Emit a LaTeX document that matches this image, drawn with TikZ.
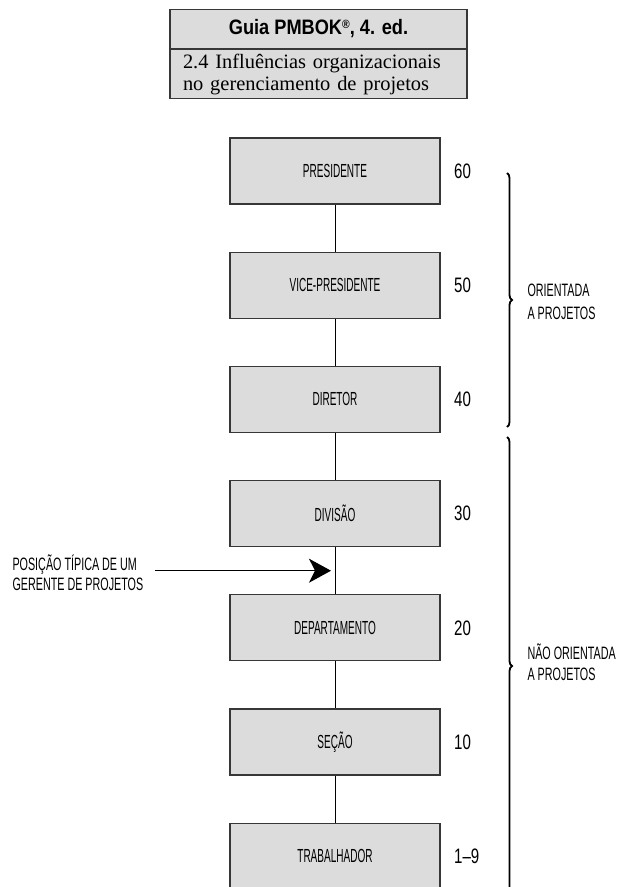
\documentclass[tikz,border=0pt]{standalone}
\usepackage{fontspec}
\usetikzlibrary{arrows.meta, positioning, calc, decorations.pathreplacing}
\newfontfamily\condfont[FakeStretch=0.53]{Liberation Sans}
\newfontfamily\rotulofont[FakeStretch=0.6]{Liberation Sans}
\newfontfamily\numfont[FakeStretch=0.72]{Liberation Sans}
\newfontfamily\titlefont[FakeStretch=0.87]{Liberation Sans}
\newfontfamily\subfont{Liberation Serif}
\definecolor{cinzaCaixa}{RGB}{220,220,221}
\definecolor{bordaCinza}{RGB}{55,55,55}

\begin{document}
\begin{tikzpicture}[x=1bp, y=-1bp, >=Stealth,
    caixa/.style={draw=bordaCinza, line width=1.2bp, fill=cinzaCaixa,
      minimum width=210bp, minimum height=66bp, inner sep=0pt,
      font=\condfont\fontsize{19}{22}\selectfont},
    cabecalho/.style={draw=bordaCinza, line width=1.2bp, fill=cinzaCaixa,
      minimum width=297bp, inner sep=0pt},
    nivel/.style={font=\numfont\fontsize{21}{24}\selectfont},
    rotulo/.style={anchor=west, align=left,
      font=\rotulofont\fontsize{18}{21}\selectfont},
    linha/.style={line width=1bp, black},
    chave/.style={decorate, decoration={brace, amplitude=5bp},
      line width=1.8bp, black}]

  \useasboundingbox (0,0) rectangle (625,887);

  % Cabecalho
  \node[cabecalho, minimum height=39bp] (titulo) at (318.5,29)
    {\titlefont\bfseries\fontsize{21}{24}\selectfont Guia PMBOK{\fontsize{12}{12}\selectfont\raisebox{6bp}{®}}, 4. ed.};
  \node[cabecalho, below=0pt of titulo, minimum height=49bp,
    text width=271bp, inner xsep=13bp, align=left,
    font=\subfont\fontsize{20.5}{22}\selectfont] (subtitulo)
    {2.4 Influências organizacionais\\no gerenciamento de projetos};

  % Niveis da hierarquia
  \node[caixa] (presidente) at (335,171) {PRESIDENTE};
  \node[caixa, below=47bp of presidente] (vice) {VICE-PRESIDENTE};
  \node[caixa, below=47bp of vice] (diretor) {DIRETOR};
  \node[caixa, below=47bp of diretor] (divisao) {DIVISÃO};
  \node[caixa, below=47bp of divisao] (departamento) {DEPARTAMENTO};
  \node[caixa, below=47bp of departamento] (secao) {SEÇÃO};
  \node[caixa, below=47bp of secao] (trabalhador) {TRABALHADOR};

  % Ligacoes entre os niveis
  \foreach \a/\b in {presidente/vice, vice/diretor, diretor/divisao,
      divisao/departamento, departamento/secao, secao/trabalhador}
    \draw[linha] (\a) -- (\b);

  % Numeros de cada nivel
  \node[nivel, right=10bp of presidente] (n60) {60};
  \node[nivel, right=10bp of vice] (n50) {50};
  \node[nivel, right=10bp of diretor] (n40) {40};
  \node[nivel, right=10bp of divisao] (n30) {30};
  \node[nivel, right=10bp of departamento] (n20) {20};
  \node[nivel, right=10bp of secao] (n10) {10};
  \node[nivel, right=10bp of trabalhador] (n1) {1–9};

  % Chaves da direita
  \coordinate (chaveA) at (507,173);
  \coordinate (chaveB) at (507,427);
  \coordinate (chaveC) at (507,437);
  \coordinate (chaveD) at (507,895);
  \draw[chave] (chaveA) -- (chaveB);
  \draw[chave] (chaveC) -- (chaveD);
  \node[rotulo, font=\rotulofont\fontsize{18}{23}\selectfont] (orientada) at (524,302) {ORIENTADA\\A PROJETOS};
  \node[rotulo] (naoorientada) at (524,662) {NÃO ORIENTADA\\A PROJETOS};

  % Posicao do gerente de projetos
  \coordinate (alvo) at ($(divisao.south)!0.5!(departamento.north)$);
  \node[rotulo, font=\rotulofont\fontsize{18}{20}\selectfont] (posicao) at (9,573) {POSIÇÃO TÍPICA DE UM\\GERENTE DE PROJETOS};
  \draw[->, line width=1.2bp, >={Stealth[length=22bp, width=24bp, inset=6bp]}]
    ([xshift=8bp]posicao.east |- alvo) -- ([xshift=-4bp]alvo);

\end{tikzpicture}
\end{document}
